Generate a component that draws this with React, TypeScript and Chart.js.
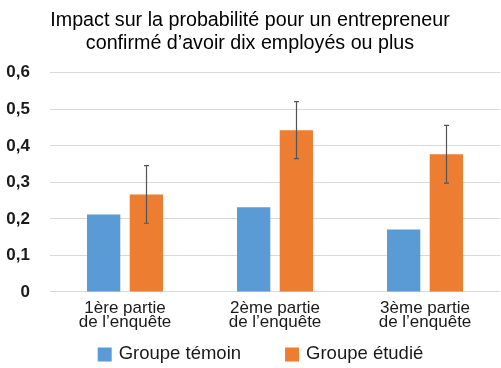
import React, { useEffect, useRef } from 'react';
import { Chart, registerables } from 'chart.js';

Chart.register(...registerables);

const titleLines = ['Impact sur la probabilité pour un entrepreneur', 'confirmé d’avoir dix employés ou plus'];
const categories = [
  ['1ère partie', 'de l’enquête'],
  ['2ème partie', 'de l’enquête'],
  ['3ème partie', 'de l’enquête'],
];
const seriesNames = ['Groupe témoin', 'Groupe étudié'];
const seriesColors = ['#5B9BD5', '#ED7D31'];
const controlValues = [0.212, 0.232, 0.171];
const treatedValues = [0.267, 0.443, 0.377];
const treatedErrors = [0.079, 0.078, 0.079];
const yTickLabels = ['0', '0,1', '0,2', '0,3', '0,4', '0,5', '0,6'];

const FONT = '"Liberation Sans", Arial, Helvetica, sans-serif';
const TEXT = '#1a1a1a';

const errorBarPlugin = {
  id: 'errorBars',
  afterDatasetsDraw(chart: any) {
    const ctx = chart.ctx;
    const yScale = chart.scales.y;
    const meta = chart.getDatasetMeta(1);
    ctx.save();
    ctx.strokeStyle = '#555555';
    ctx.lineWidth = 1.2;
    meta.data.forEach((bar: any, i: number) => {
      const v = treatedValues[i];
      const e = treatedErrors[i];
      const top = yScale.getPixelForValue(v + e);
      const bot = yScale.getPixelForValue(v - e);
      const x = Math.round(bar.x) + 0.5;
      ctx.beginPath();
      ctx.moveTo(x, top);
      ctx.lineTo(x, bot);
      ctx.moveTo(x - 2.5, top);
      ctx.lineTo(x + 2.5, top);
      ctx.moveTo(x - 2.5, bot);
      ctx.lineTo(x + 2.5, bot);
      ctx.stroke();
    });
    ctx.restore();
  },
};

const customLegendPlugin = {
  id: 'customLegend',
  afterDraw(chart: any) {
    const ctx = chart.ctx;
    const datasets = chart.data.datasets;
    const fontSize = 18.5;
    const box = 14;
    const gapText = 7;
    const itemGap = 44;
    ctx.save();
    ctx.font = `${fontSize}px ${FONT}`;
    const widths = datasets.map((d: any) => box + gapText + ctx.measureText(d.label).width);
    const total = widths.reduce((a: number, b: number) => a + b, 0) + itemGap * (datasets.length - 1);
    const centerX = 260.5;
    const centerY = 353.5;
    let x = centerX - total / 2;
    datasets.forEach((d: any, i: number) => {
      ctx.fillStyle = d.backgroundColor;
      ctx.fillRect(x, centerY - box / 2 + 1, box, box);
      ctx.fillStyle = TEXT;
      ctx.textBaseline = 'middle';
      ctx.textAlign = 'left';
      ctx.fillText(d.label, x + box + gapText, centerY);
      x += widths[i] + itemGap;
    });
    ctx.restore();
  },
};

function BarChart() {
  const canvasRef = useRef<HTMLCanvasElement | null>(null);

  useEffect(() => {
    if (!canvasRef.current) return;
    Chart.defaults.font.family = FONT;
    const chart = new Chart(canvasRef.current, {
      type: 'bar',
      data: {
        labels: categories,
        datasets: [
          {
            label: seriesNames[0],
            data: controlValues,
            backgroundColor: seriesColors[0],
            categoryPercentage: 0.569,
            barPercentage: 0.78,
          },
          {
            label: seriesNames[1],
            data: treatedValues,
            backgroundColor: seriesColors[1],
            categoryPercentage: 0.569,
            barPercentage: 0.78,
          },
        ],
      },
      options: {
        responsive: false,
        animation: false,
        layout: { padding: { left: 0, right: 1, top: 0, bottom: 29.1 } },
        plugins: {
          legend: { display: false },
          tooltip: { enabled: false },
          title: {
            display: true,
            text: titleLines,
            color: '#000',
            font: { size: 19.7, weight: 'normal', family: FONT, lineHeight: 1.17 },
            padding: { top: 8.8, bottom: 17.9 },
          },
        },
        scales: {
          x: {
            grid: { display: false, drawTicks: false },
            border: { display: false },
            ticks: {
              color: TEXT,
              padding: 10,
              maxRotation: 0,
              autoSkip: false,
              font: { size: 17, family: FONT, lineHeight: '13.5px' },
            },
          },
          y: {
            min: 0,
            max: 0.6,
            afterFit(scale: any) {
              scale.width = 50;
            },
            grid: { color: '#d9d9d9', lineWidth: 1, drawTicks: false },
            border: { display: false },
            ticks: {
              stepSize: 0.1,
              padding: 20,
              color: TEXT,
              font: { size: 17, weight: 'bold', family: FONT },
              callback: (_v: any, i: number) => yTickLabels[i],
            },
          },
        },
      },
      plugins: [errorBarPlugin, customLegendPlugin],
    });
    return () => chart.destroy();
  }, []);

  return <canvas ref={canvasRef} width={501} height={368} style={{ display: 'block' }} />;
}

export default function App() {
  return (
    <div style={{ position: 'fixed', left: 0, top: 0, width: 501, height: 368, background: '#fff' }}>
      <BarChart />
    </div>
  );
}
